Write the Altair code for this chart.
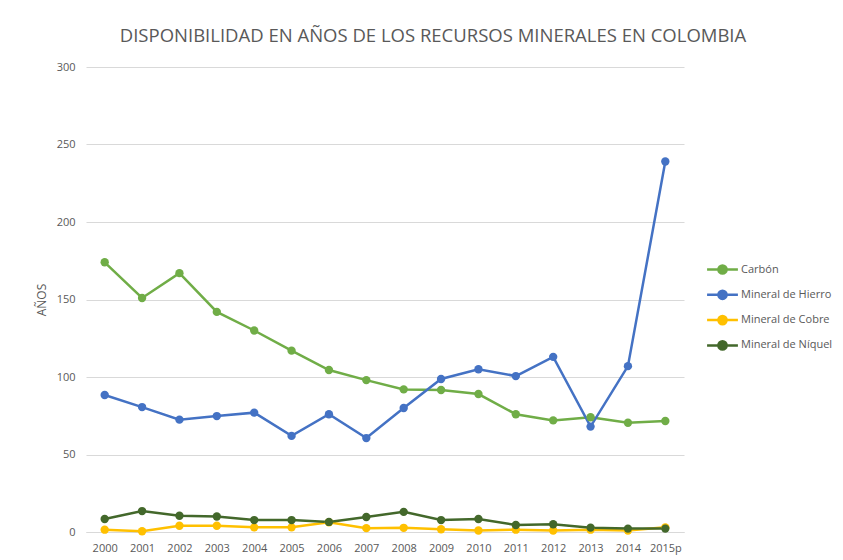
import altair as alt
import pandas as pd

years = ["2000", "2001", "2002", "2003", "2004", "2005", "2006", "2007",
         "2008", "2009", "2010", "2011", "2012", "2013", "2014", "2015p"]
carbon = [174, 151, 167, 142, 130, 117, 104.5, 98, 92, 91.6, 89, 76, 72, 74, 70.5, 71.6]
hierro = [88.4, 80.6, 72.5, 74.8, 77, 62, 76, 60.6, 80, 98.7, 105, 100.6, 113, 68, 107, 239]
cobre = [1.5, 0.5, 4, 4, 3, 3, 6.3, 2.5, 2.7, 1.8, 1, 1.5, 1, 1.5, 1, 3]
niquel = [8.4, 13.5, 10.5, 10, 7.7, 7.7, 6.5, 9.7, 13, 7.7, 8.4, 4.5, 5, 2.8, 2.2, 2.2]

series = ["Carbón", "Mineral de Hierro", "Mineral de Cobre", "Mineral de Níquel"]
colors = ["#70AD47", "#4472C4", "#FFC000", "#43682B"]

rows = []
for name, vals in zip(series, [carbon, hierro, cobre, niquel]):
    for y, v in zip(years, vals):
        rows.append({"Año": y, "Valor": v, "Serie": name, "orden": series.index(name)})
df = pd.DataFrame(rows)

font = "Open Sans"
gray = "#595959"

sym = "M -1.2 0 L 1.2 0 M -0.32 0 A 0.32 0.32 0 1 1 0.32 0 A 0.32 0.32 0 1 1 -0.32 0 Z"

leg = alt.Legend(
    title=None,
    orient="none",
    legendX=622,
    legendY=188,
    symbolType=sym,
    symbolSize=660,
    symbolStrokeWidth=2.5,
    labelFont=font,
    labelFontSize=11,
    labelColor=gray,
    labelOffset=4,
    rowPadding=1.3,
)
scale = alt.Scale(domain=series, range=colors)

x = alt.X("Año:N", sort=years, scale=alt.Scale(paddingOuter=0.5, paddingInner=0),
          axis=alt.Axis(title=None, labelAngle=0, ticks=False, domain=True,
                        domainColor="#D9D9D9", labelColor=gray, labelFont=font,
                        labelFontSize=11, labelPadding=10, grid=False))
y = alt.Y("Valor:Q", scale=alt.Scale(domain=[0, 300], nice=False),
          axis=alt.Axis(title="AÑOS", values=[0, 50, 100, 150, 200, 250, 300],
                        ticks=False, domain=False, gridColor="#D9D9D9",
                        labelColor=gray, labelFont=font, labelFontSize=11,
                        labelPadding=11, titleColor=gray, titleFont=font,
                        titleFontSize=12, titleFontWeight="normal", titlePadding=8))

lines = alt.Chart(df).mark_line(strokeWidth=2.5).encode(
    x=x, y=y,
    stroke=alt.Stroke("Serie:N", scale=scale, sort=series, legend=leg),
    order=alt.Order("orden:Q"),
)
points = alt.Chart(df).mark_circle(size=70, opacity=1).encode(
    x=x, y=y,
    fill=alt.Fill("Serie:N", scale=scale, sort=series, legend=leg),
    order=alt.Order("orden:Q"),
)

chart = (lines + points).properties(
    width=598,
    height=465,
    title=alt.TitleParams(
        "DISPONIBILIDAD EN AÑOS DE LOS RECURSOS MINERALES EN COLOMBIA",
        font=font, fontSize=18.5, fontWeight="normal", color=gray,
        anchor="middle", dx=48, offset=16,
    ),
    autosize=alt.AutoSizeParams(type="none"),
    padding={"left": 78, "top": 59, "right": 149, "bottom": 26},
).configure_view(stroke=None)

chart.save("out.html", embed_options={"renderer": "svg", "actions": False})
